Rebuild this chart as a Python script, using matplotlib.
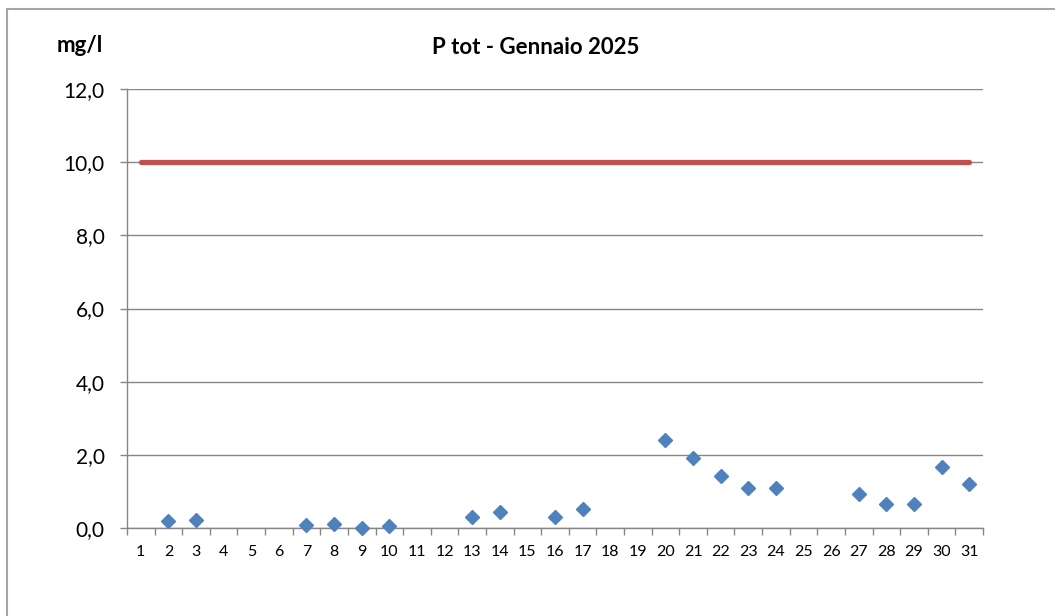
import matplotlib
matplotlib.use("Agg")
import matplotlib.pyplot as plt
import numpy as np

days = list(range(1, 32))
day_labels = [str(d) for d in days]
sample_days = [2, 3, 7, 8, 9, 10, 13, 14, 16, 17, 20, 21, 22, 23, 24, 27, 28, 29, 30, 31]
p_tot = [0.18, 0.23, 0.09, 0.12, 0.0, 0.06, 0.31, 0.43, 0.31, 0.52,
         2.40, 1.92, 1.42, 1.10, 1.08, 0.93, 0.66, 0.66, 1.67, 1.20]
limit = [10.0] * 31
y_ticks = [0, 2, 4, 6, 8, 10, 12]
y_tick_labels = ["0,0", "2,0", "4,0", "6,0", "8,0", "10,0", "12,0"]
title = "P tot - Gennaio 2025"
unit = "mg/l"

plt.rcParams['font.family'] = ['Lato', 'DejaVu Sans']

fig = plt.figure(figsize=(10.55, 6.16), dpi=100)
# outer chart frame (only left and top edges visible in the crop)
fig.patches.append(plt.Rectangle((7/1055, -0.5), 1.5, 1.5 - 9/616, transform=fig.transFigure,
                                 fill=False, edgecolor='#A6A6A6', linewidth=1.5))
ax = fig.add_axes([127/1055, 1 - 528/616, (983 - 127)/1055, (528 - 89)/616])

ax.plot(days, limit, color='#C0504D', linewidth=3.8, solid_capstyle='round', zorder=3)
ax.plot(sample_days, p_tot, linestyle='none', marker='D', markersize=7.3,
        color='#4F81BD', zorder=4, clip_on=False)

ax.set_xlim(0.5, 31.5)
ax.set_ylim(0, 12)
ax.set_yticks(y_ticks)
ax.set_yticklabels(y_tick_labels, fontsize=15)
ax.set_xticks(days)
ax.set_xticklabels(day_labels, fontsize=11.5)
ax.tick_params(axis='x', length=0, pad=12)
ax.set_xticks(np.arange(0.5, 32, 1), minor=True)
ax.tick_params(axis='x', which='minor', length=5, color='#868686', width=1)
ax.tick_params(axis='y', length=5, color='#868686', width=1, pad=11)

ax.grid(axis='y', color='#868686', linewidth=1)
ax.set_axisbelow(True)
for s in ['top', 'right']:
    ax.spines[s].set_visible(False)
for s in ['left', 'bottom']:
    ax.spines[s].set_color('#868686')
    ax.spines[s].set_linewidth(1)

fig.text(536/1055, 1 - 47/616, title, ha='center', va='center', fontsize=16, fontweight='bold')
fig.text(80/1055, 1 - 45/616, unit, ha='center', va='center', fontsize=16, fontweight='bold')

fig.savefig("out.png", dpi=100)
